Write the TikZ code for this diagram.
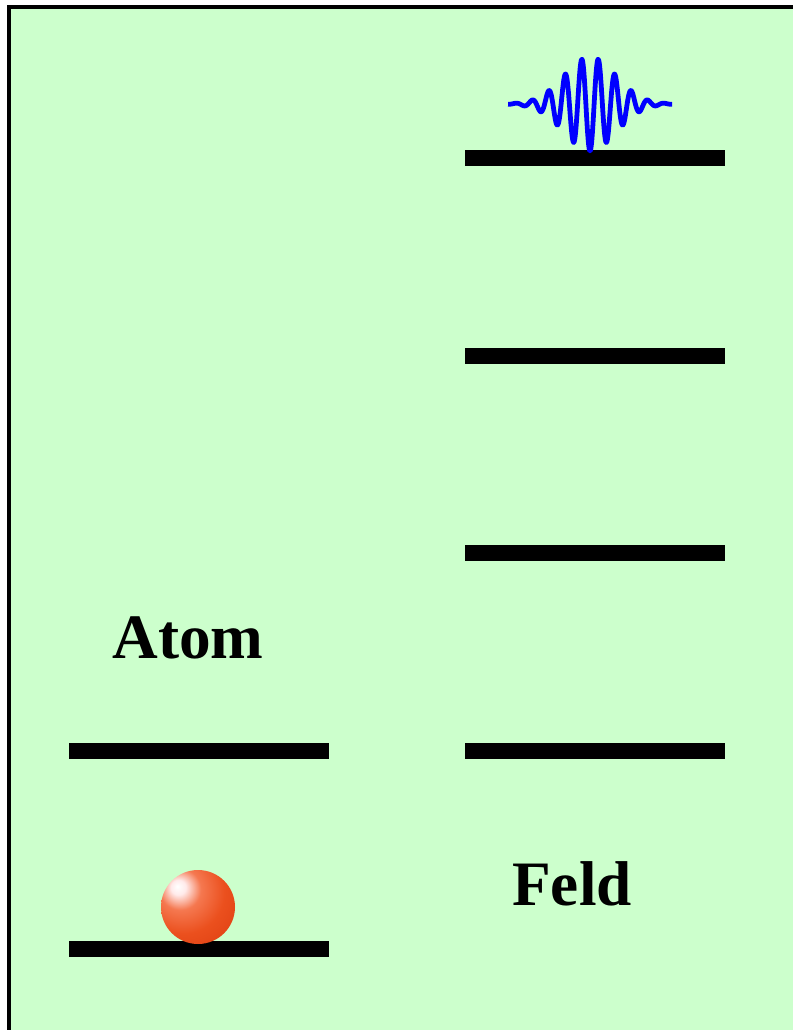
\documentclass[tikz,border=0pt]{standalone}
\usepackage{fontspec}
\setmainfont{Liberation Serif}
\usetikzlibrary{shadings}

\definecolor{panelgreen}{RGB}{204,255,204}
\definecolor{pulseblue}{RGB}{0,0,255}

% glossy red sphere, highlight up left
\pgfdeclareradialshading{electron}{\pgfpoint{-14bp}{14bp}}{%
  color(0bp)=(white);
  color(5bp)=(white!92!red);
  color(14bp)=(rgb,255:red,245;green,120;blue,80);
  color(28bp)=(rgb,255:red,235;green,80;blue,30);
  color(48bp)=(rgb,255:red,220;green,60;blue,15);
  color(62bp)=(rgb,255:red,205;green,50;blue,10);
  color(100bp)=(rgb,255:red,205;green,50;blue,10)}

\tikzset{
  level/.style={line width=11pt},
  label/.style={font=\bfseries\fontsize{45}{50}\selectfont},
}

\begin{document}
\begin{tikzpicture}[x=0.025cm,y=-0.025cm]
\useasboundingbox (0,0) rectangle (792,1030);
\fill[panelgreen,draw=black,line width=2.2pt] (9,7) rectangle (820,1060);
% atom levels
\coordinate (g0) at (69,949);
\coordinate (g1) at (329,949);
\coordinate (e0) at (69,751);
\coordinate (e1) at (329,751);
\draw[level] (g0) -- (g1);
\draw[level] (e0) -- (e1);
% field levels
\foreach \n/\y in {0/751,1/553,2/356,3/158}{
  \coordinate (f\n a) at (465,\y);
  \coordinate (f\n b) at (725,\y);
  \draw[level] (f\n a) -- (f\n b);
}
\node[label] (atom) at (188,638) {Atom};
\node[label] (feld) at (572,884) {Feld};
% electron in the ground state
\shade[shading=electron] (198,907) circle (37);
% photon wave packet on the top level (period 16.5)
\draw[pulseblue,line width=3.4pt,line join=round]
  plot[domain=-82:82,samples=400,smooth]
  ({\x+590},{104+47*exp(-(\x*\x)/1350)*cos(21.818*\x)});
\end{tikzpicture}
\end{document}
